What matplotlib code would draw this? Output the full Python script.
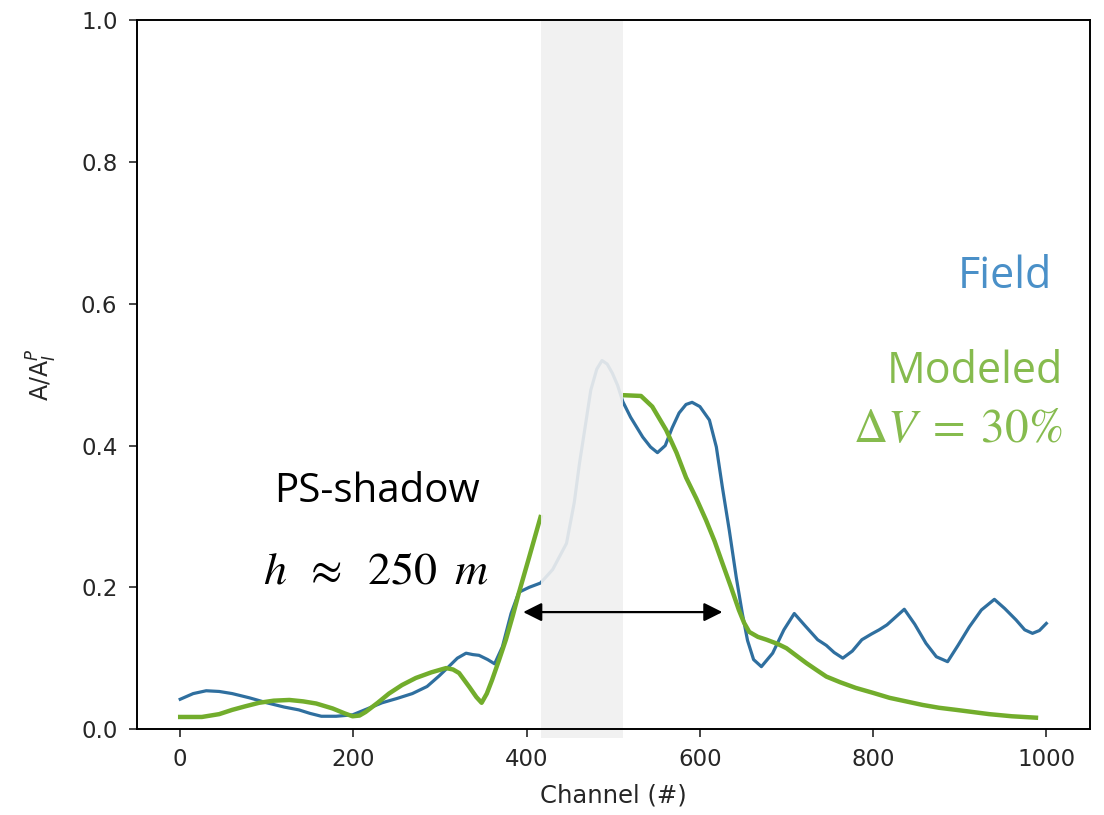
import numpy as np
import matplotlib
matplotlib.use("Agg")
import matplotlib.pyplot as plt

plt.rcParams["mathtext.fontset"] = "stix"

# Field amplitude ratio along the receiver line
field_channel = [0, 15, 30, 45, 60, 80, 100, 120, 137, 150, 163, 180, 199, 215,
                 233, 250, 268, 285, 299, 310, 320, 330, 338, 345, 355, 363,
                 372, 382, 391, 403, 416, 430, 446, 455, 461, 468, 474, 481,
                 487, 493, 499, 505, 511, 520, 534, 543, 551, 560, 568, 576,
                 584, 591, 600, 611, 619, 626, 634, 642, 649, 655, 662, 671,
                 684, 697, 709, 722, 736, 746, 755, 765, 776, 787, 798, 807,
                 816, 826, 836, 848, 861, 873, 886, 898, 911, 925, 940, 952,
                 965, 975, 984, 992, 1000]
field_amp = [0.042, 0.050, 0.054, 0.053, 0.050, 0.044, 0.037, 0.031, 0.027,
             0.022, 0.018, 0.018, 0.020, 0.028, 0.037, 0.043, 0.050, 0.060,
             0.075, 0.088, 0.100, 0.107, 0.105, 0.104, 0.098, 0.092, 0.116,
             0.163, 0.193, 0.200, 0.206, 0.225, 0.262, 0.320, 0.375, 0.430,
             0.478, 0.508, 0.520, 0.515, 0.502, 0.485, 0.462, 0.440, 0.412,
             0.398, 0.390, 0.400, 0.425, 0.446, 0.458, 0.461, 0.455, 0.436,
             0.398, 0.341, 0.280, 0.214, 0.163, 0.125, 0.098, 0.088, 0.107,
             0.140, 0.163, 0.145, 0.126, 0.118, 0.108, 0.100, 0.110, 0.126,
             0.134, 0.140, 0.147, 0.158, 0.169, 0.148, 0.121, 0.102, 0.095,
             0.118, 0.144, 0.168, 0.183, 0.170, 0.154, 0.140, 0.135, 0.139,
             0.149]

# Modeled amplitude ratio (dV = 30%); nan marks the masked shadow zone
model_channel = [0, 25, 45, 60, 75, 91, 108, 126, 142, 157, 176, 190, 199,
                 207, 214, 228, 241, 256, 272, 290, 307, 315, 322, 334, 342,
                 348, 354, 360, 368, 376, 384, 391, 403, 416, 465, 513, 532,
                 545, 561, 573, 584, 596, 607, 617, 626, 636, 645, 651, 657,
                 667, 677, 690, 700, 712, 723, 735, 746, 762, 780, 800, 819,
                 838, 857, 876, 896, 915, 934, 960, 988]
model_amp = [0.017, 0.017, 0.021, 0.027, 0.032, 0.037, 0.040, 0.041, 0.039,
             0.036, 0.029, 0.022, 0.018, 0.019, 0.024, 0.037, 0.050, 0.062,
             0.072, 0.080, 0.086, 0.084, 0.079, 0.059, 0.045, 0.037, 0.050,
             0.069, 0.097, 0.126, 0.160, 0.192, 0.243, 0.299, np.nan, 0.471,
             0.470, 0.455, 0.422, 0.390, 0.355, 0.325, 0.295, 0.265, 0.234,
             0.200, 0.168, 0.150, 0.137, 0.130, 0.126, 0.120, 0.114, 0.103,
             0.093, 0.083, 0.074, 0.066, 0.058, 0.051, 0.044, 0.039, 0.034,
             0.030, 0.027, 0.024, 0.021, 0.018, 0.016]

shadow_zone = (417, 511)
shadow_width = (396, 626)
shadow_level = 0.165

x_ticks = [0, 200, 400, 600, 800, 1000]
y_ticks = [0.0, 0.2, 0.4, 0.6, 0.8, 1.0]

field_color = "#2f6f9f"
field_text_color = "#4a90c8"
model_color = "#72ad2c"
model_text_color = "#86bb4e"
axis_text_color = "#262626"

fig = plt.figure(figsize=(11.04, 8.15), dpi=100)
ax = fig.add_axes([0.124, 0.1055, 0.863, 0.8695])

ax.plot(field_channel, field_amp, color=field_color, lw=2.3, zorder=2)
ax.plot(model_channel, model_amp, color=model_color, lw=3.2, zorder=2.2)

ax.axvspan(*shadow_zone, ymin=-0.013, ymax=1.0, color="#f0f0f0", alpha=0.9,
           lw=0, zorder=3, clip_on=False)

ax.annotate("", xy=(shadow_width[0], shadow_level),
            xytext=(shadow_width[1], shadow_level),
            arrowprops=dict(arrowstyle="<|-|>", color="black", lw=1.6,
                            mutation_scale=28, shrinkA=0, shrinkB=0),
            zorder=5)

ax.set_xlim(-50, 1050)
ax.set_ylim(0, 1.0)
ax.set_xticks(x_ticks)
ax.set_yticks(y_ticks)
ax.set_xticklabels([str(t) for t in x_ticks])
ax.set_yticklabels([f"{t:.1f}" for t in y_ticks])
ax.tick_params(labelsize=16.5, length=6, width=1.2, pad=8,
               colors=axis_text_color, labelcolor=axis_text_color)
for sp in ax.spines.values():
    sp.set_linewidth(1.4)
    sp.set_zorder(4)

ax.set_xlabel("Channel (#)", fontsize=17.5, color=axis_text_color,
              labelpad=9)
ax.set_ylabel(r"A/A$_I^P$", fontsize=17, color=axis_text_color, labelpad=16,
              math_fontfamily="dejavusans")

ax.text(0.961, 0.623, "Field", transform=ax.transAxes, ha="right",
        va="baseline", fontsize=31, color=field_text_color,
        family="Open Sans")
ax.text(0.972, 0.488, "Modeled", transform=ax.transAxes, ha="right",
        va="baseline", fontsize=31, color=model_text_color,
        family="Open Sans")
ax.text(0.972, 0.405, r"$\Delta V\;=\;30\%$", transform=ax.transAxes,
        ha="right", va="baseline", fontsize=34, color=model_text_color)
ax.text(0.252, 0.320, "PS-shadow", transform=ax.transAxes, ha="center",
        va="baseline", fontsize=29, color="black", family="Open Sans")
ax.text(0.251, 0.206, r"$h\;\;\approx\;\;250\;\;m$", transform=ax.transAxes,
        ha="center", va="baseline", fontsize=33, color="black")

fig.savefig("out.png", dpi=100)
